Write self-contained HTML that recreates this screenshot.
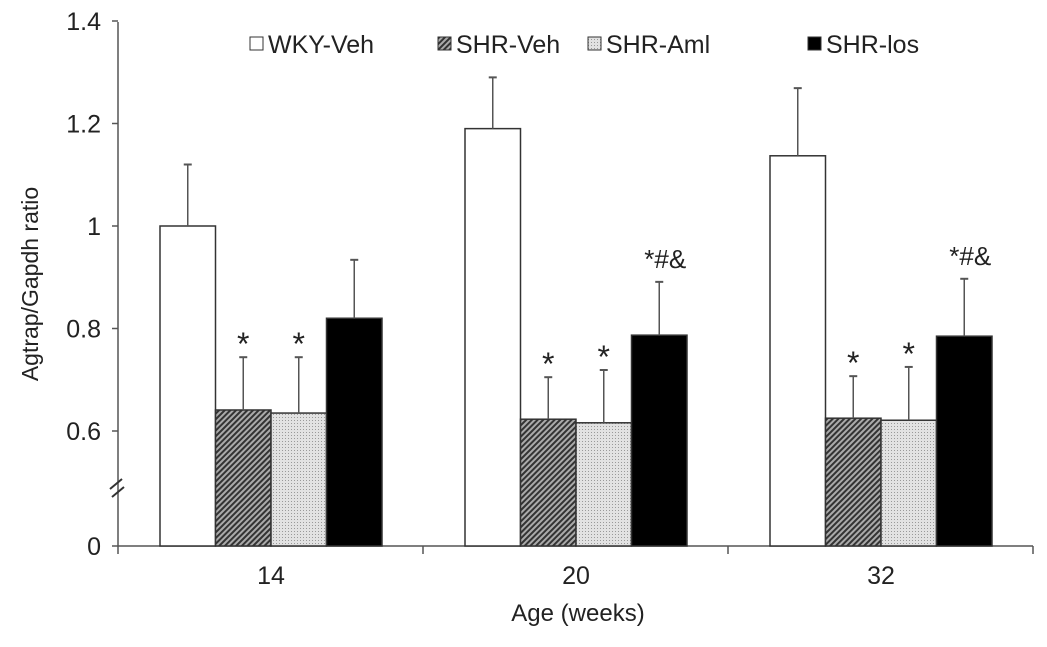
<!DOCTYPE html>
<html><head><meta charset="utf-8"><style>
body{margin:0;background:#fff}
svg text{font-family:"Liberation Sans",Arial,sans-serif;fill:#222}
</style></head><body>
<svg id="chart" width="1047" height="642" xmlns="http://www.w3.org/2000/svg">
<defs>
<pattern id="hatch" patternUnits="userSpaceOnUse" width="4" height="4" patternTransform="rotate(45)">
<rect width="4" height="4" fill="#aaa"/><rect width="2" height="4" fill="#333"/></pattern>
<pattern id="dots" patternUnits="userSpaceOnUse" width="3" height="3">
<rect width="3" height="3" fill="#e2e2e2"/><rect width="1" height="1" fill="#999"/></pattern>
</defs>
<g id="plot"></g>
</svg>
<script>
const categories=["14","20","32"];
const seriesNames=["WKY-Veh","SHR-Veh","SHR-Aml","SHR-los"];
const wky=[1.0,1.19,1.137];
const shrVeh=[0.641,0.623,0.625];
const shrAml=[0.635,0.616,0.621];
const shrLos=[0.820,0.787,0.785];
const errWky=[0.12,0.10,0.132];
const errVeh=[0.103,0.082,0.082];
const errAml=[0.109,0.103,0.104];
const errLos=[0.114,0.104,0.112];
const annVeh=["*","*","*"];
const annAml=["*","*","*"];
const annLos=["","*#&","*#&"];
const yTicks=[0,0.6,0.8,1,1.2,1.4];
const tickLabels=["0","0.6","0.8","1","1.2","1.4"];

const NS="http://www.w3.org/2000/svg";
const g=document.getElementById('plot');
function el(t,a,txt){const e=document.createElementNS(NS,t);for(const k in a)e.setAttribute(k,a[k]);if(txt!==undefined)e.textContent=txt;g.appendChild(e);return e;}
const X0=118,STEP=305,BW=55.5,OFF=42,ZERO=546;
function y(v){return v<0.6?ZERO-(v/0.6)*(ZERO-431):431-(v-0.6)*512.5;}
function xb(ci,si){return X0+ci*STEP+OFF+si*BW;}
const fills=["#fff","url(#hatch)","url(#dots)","#000"];
const vals=[wky,shrVeh,shrAml,shrLos],errs=[errWky,errVeh,errAml,errLos],anns=[null,annVeh,annAml,annLos];
let a=el('line',{x1:X0,y1:22,x2:X0,y2:ZERO,stroke:'#555','stroke-width':1.5});

a=el('line',{x1:X0,y1:ZERO,x2:X0+3*STEP,y2:ZERO,stroke:'#555','stroke-width':1.5});

yTicks.forEach((v,i)=>{
 el('line',{x1:X0-6,y1:y(v),x2:X0,y2:y(v),stroke:'#555','stroke-width':1.5});
 const t=el('text',{x:X0-17,y:y(v)+9,'text-anchor':'end','font-size':25},tickLabels[i]);
 
});
for(let i=0;i<=3;i++)el('line',{x1:X0+i*STEP,y1:ZERO,x2:X0+i*STEP,y2:ZERO+8,stroke:'#555','stroke-width':1.5});
el('line',{x1:110,y1:489,x2:122,y2:479,stroke:'#333','stroke-width':2});
el('line',{x1:112,y1:497,x2:124,y2:487,stroke:'#333','stroke-width':2});
categories.forEach((c,ci)=>{
 const t=el('text',{x:X0+ci*STEP+OFF+2*BW,y:584,'text-anchor':'middle','font-size':25},c);
 
 vals.forEach((arr,si)=>{
  const x=xb(ci,si),top=y(arr[ci]);
  const r=el('rect',{x:x,y:top,width:BW,height:ZERO-top,fill:fills[si],stroke:'#333','stroke-width':1.5});
  
  
  const et=y(arr[ci]+errs[si][ci]),cx=x+BW/2;
  const e=el('line',{x1:cx,y1:top,x2:cx,y2:et,stroke:'#555','stroke-width':1.5});
  
  el('line',{x1:cx-4,y1:et,x2:cx+4,y2:et,stroke:'#555','stroke-width':2});
  if(anns[si]&&anns[si][ci]){
   const s=el('text',{x:cx+(anns[si][ci].length>1?6:0),y:et-(anns[si][ci].length>1?14:2),'text-anchor':'middle','font-size':anns[si][ci].length>1?26:32,fill:'#555'},anns[si][ci]);
   
  }
 });
});
let t=el('text',{x:578,y:621,'text-anchor':'middle','font-size':24},'Age (weeks)');

t=el('text',{x:0,y:0,'text-anchor':'middle','font-size':23,transform:'translate(38,284) rotate(-90)'},'Agtrap/Gapdh ratio');

const lx=[250,438,588,808];
seriesNames.forEach((n,i)=>{
 const b=el('rect',{x:lx[i],y:37,width:13,height:13,fill:fills[i],stroke:'#333','stroke-width':1});
 
 const l=el('text',{x:lx[i]+18,y:53,'font-size':25},n);
 
});
</script>
</body></html>
